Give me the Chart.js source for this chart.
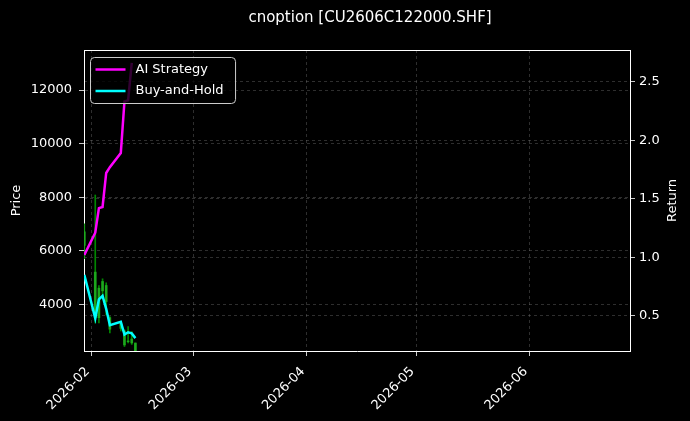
<!DOCTYPE html>
<html lang="en">
<head>
    <meta charset="UTF-8">
    <title>cnoption [CU2606C122000.SHF]</title>
    <script src="https://cdn.jsdelivr.net/npm/chart.js"></script>
    <style>
        html, body { margin: 0; padding: 0; background: #000; }
        #wrap { width: 690px; height: 421px; position: relative; }
    </style>
</head>
<body>
    <div id="wrap"><canvas id="optionChart"></canvas></div>

    <script>
        const chartTitle = 'cnoption [CU2606C122000.SHF]';

        // trading days
        const dates = ['2026-01-30', '2026-02-02', '2026-02-03', '2026-02-04', '2026-02-05', '2026-02-06',
                       '2026-02-09', '2026-02-10', '2026-02-11', '2026-02-12', '2026-02-13'];

        // daily candles (price axis)
        const candleOpen  = [6700, 5200, 3500, 4500, 4700, 3500, 3100, 3000, 2600, 2700, 2550];
        const candleHigh  = [7000, 8080, 4700, 4950, 4800, 3540, 3340, 3040, 3165, 2980, 2555];
        const candleLow   = [5700, 3300, 3300, 4200, 3600, 2930, 3000, 2420, 2555, 2500, 2100];
        const candleClose = [6200, 3500, 4600, 4850, 4100, 3070, 3285, 2480, 2630, 2555, 2263];

        // cumulative returns (right axis)
        const aiStrategy = [1.02, 1.21, 1.42, 1.43, 1.72, 1.77, 1.89, 2.33, 2.34, 2.66, null];
        const buyAndHold = [0.85, 0.48, 0.64, 0.67, 0.56, 0.42, 0.45, 0.34, 0.36, 0.35, 0.31];

        const priceTicks = [4000, 6000, 8000, 10000, 12000];
        const returnTicks = [0.5, 1.0, 1.5, 2.0, 2.5];
        const monthTicks = ['2026-02-01', '2026-03-01', '2026-04-01', '2026-05-01', '2026-06-01'];

        const toMs = s => Date.parse(s.includes('T') ? s + 'Z' : s + 'T00:00Z');
        const xMin = toMs('2026-01-29T22:00');
        const xMax = toMs('2026-06-28T12:00');

        Chart.defaults.font.family = "'DejaVu Sans', sans-serif";
        Chart.defaults.font.size = 13;
        Chart.defaults.color = '#ffffff';

        const gridColor = 'rgba(128,128,128,0.45)';

        function fixedTicks(list) {
            return scale => { scale.ticks = list.map(v => ({ value: v })); };
        }

        // title, top spine, legend box and right axis label
        const framePlugin = {
            id: 'frame',
            afterDraw(chart) {
                const { ctx, chartArea: a } = chart;
                ctx.save();
                ctx.fillStyle = '#ffffff';
                ctx.font = "15px 'DejaVu Sans', sans-serif";
                ctx.textAlign = 'center';
                ctx.textBaseline = 'middle';
                ctx.fillText(chartTitle, (a.left + a.right) / 2 + 13, 18);

                ctx.strokeStyle = '#ffffff';
                ctx.lineWidth = 1;
                ctx.beginPath();
                ctx.moveTo(a.left, a.top + 0.5);
                ctx.lineTo(a.right, a.top + 0.5);
                ctx.stroke();

                // legend
                const items = chart.data.datasets.filter(d => d.type === 'line');
                ctx.font = "13px 'DejaVu Sans', sans-serif";
                const textW = Math.max(...items.map(d => ctx.measureText(d.label).width));
                const bx = a.left + 6.5, by = a.top + 7.5;
                const bw = 45 + textW + 12, bh = 46;
                ctx.fillStyle = 'rgba(0,0,0,0.8)';
                ctx.strokeStyle = '#cccccc';
                ctx.beginPath();
                ctx.roundRect(bx, by, bw, bh, 4);
                ctx.fill();
                ctx.stroke();
                items.forEach((d, i) => {
                    const y = by + 12 + i * 21.5;
                    ctx.strokeStyle = d.borderColor;
                    ctx.lineWidth = 2.5;
                    ctx.beginPath();
                    ctx.moveTo(bx + 5, y);
                    ctx.lineTo(bx + 35, y);
                    ctx.stroke();
                    ctx.fillStyle = '#ffffff';
                    ctx.textAlign = 'left';
                    ctx.textBaseline = 'middle';
                    ctx.fillText(d.label, bx + 45, y);
                });

                // right axis title, reading upwards
                ctx.translate(chart.width - 17, (a.top + a.bottom) / 2);
                ctx.rotate(-Math.PI / 2);
                ctx.textAlign = 'center';
                ctx.fillStyle = '#ffffff';
                ctx.fillText('Return', 0, 0);
                ctx.restore();
            }
        };

        const ctx = document.getElementById('optionChart').getContext('2d');
        const optionChart = new Chart(ctx, {
            type: 'line',
            data: {
                datasets: [{
                    type: 'line',
                    label: 'AI Strategy',
                    data: dates.map((d, i) => ({ x: toMs(d), y: aiStrategy[i] })),
                    yAxisID: 'y1',
                    borderColor: '#ff00ff',
                    borderWidth: 2.5,
                    pointRadius: 0,
                    tension: 0,
                    order: 0
                }, {
                    type: 'line',
                    label: 'Buy-and-Hold',
                    data: dates.map((d, i) => ({ x: toMs(d), y: buyAndHold[i] })),
                    yAxisID: 'y1',
                    borderColor: '#00ffff',
                    borderWidth: 2.5,
                    pointRadius: 0,
                    tension: 0,
                    order: 0
                }, {
                    type: 'bar',
                    label: 'wick',
                    data: dates.map((d, i) => ({ x: toMs(d), y: [candleLow[i], candleHigh[i]] })),
                    yAxisID: 'y',
                    backgroundColor: 'rgba(0,150,0,0.9)',
                    barThickness: 1,
                    grouped: false,
                    order: 2
                }, {
                    type: 'bar',
                    label: 'body',
                    data: dates.map((d, i) => ({ x: toMs(d), y: [candleOpen[i], candleClose[i]] })),
                    yAxisID: 'y',
                    backgroundColor: 'rgba(30,170,30,0.95)',
                    barThickness: 2,
                    grouped: false,
                    order: 1
                }]
            },
            options: {
                responsive: true,
                maintainAspectRatio: false,
                animation: false,
                layout: { padding: { top: 50 } },
                plugins: {
                    legend: { display: false },
                    tooltip: { enabled: false },
                    title: { display: false }
                },
                scales: {
                    x: {
                        type: 'linear',
                        min: xMin,
                        max: xMax,
                        offset: false,
                        afterBuildTicks: fixedTicks(monthTicks.map(toMs)),
                        afterFit: s => { s.height = 70; },
                        ticks: {
                            autoSkip: false,
                            minRotation: 45,
                            maxRotation: 45,
                            padding: 8,
                            labelOffset: -4,
                            callback: v => {
                                const d = new Date(v);
                                return d.getUTCFullYear() + '-' + String(d.getUTCMonth() + 1).padStart(2, '0');
                            }
                        },
                        grid: { offset: false, color: gridColor, lineWidth: 0.8, tickColor: '#ffffff', tickLength: 5 },
                        border: { color: '#ffffff', width: 1, dash: [3, 3] }
                    },
                    y: {
                        position: 'left',
                        min: 2254,
                        max: 13495,
                        afterBuildTicks: fixedTicks(priceTicks),
                        afterFit: s => { s.width = 84; },
                        ticks: { padding: 7, callback: v => String(v) },
                        title: { display: true, text: 'Price', color: '#ffffff', padding: { top: 9, bottom: 0 } },
                        grid: { color: gridColor, lineWidth: 0.8, tickColor: '#ffffff', tickLength: 5 },
                        border: { color: '#ffffff', width: 1, dash: [3, 3] }
                    },
                    y1: {
                        position: 'right',
                        min: 0.20,
                        max: 2.77,
                        afterBuildTicks: fixedTicks(returnTicks),
                        afterFit: s => { s.width = 60; },
                        ticks: { padding: 4, callback: v => v.toFixed(1) },
                        grid: { color: gridColor, lineWidth: 0.8, tickColor: '#ffffff', tickLength: 5 },
                        border: { color: '#ffffff', width: 1, dash: [3, 3] }
                    }
                }
            },
            plugins: [framePlugin]
        });
    </script>
</body>
</html>
